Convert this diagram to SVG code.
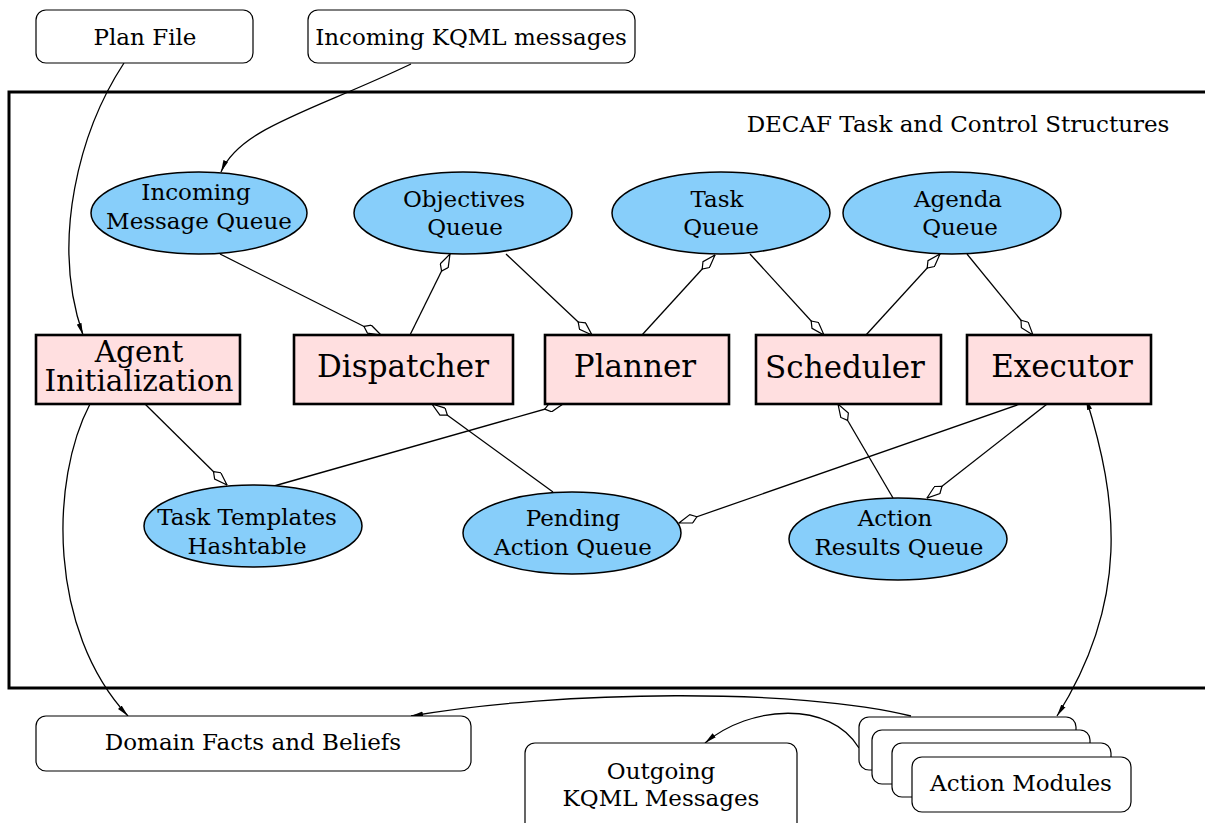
<svg xmlns="http://www.w3.org/2000/svg" width="1205" height="823" viewBox="0 0 1205 823">
<style>
text{font-family:"DejaVu Serif","Liberation Serif",serif;fill:#000;text-anchor:middle}
.s{font-size:23px}
.b{font-size:31px}
.b2{font-size:29.5px}
.q{fill:#87cefa;stroke:#000;stroke-width:1.5}
.p{fill:#ffdfe0;stroke:#000;stroke-width:2.6}
.r{fill:#fff;stroke:#000;stroke-width:1.2}
.e{fill:none;stroke:#000;stroke-width:1.3}
.dm{marker-end:url(#dia)}
.ar{marker-end:url(#arr)}
</style>
<defs>
<marker id="dia" viewBox="0 0 20 10" refX="19.5" refY="5" markerWidth="20" markerHeight="10" orient="auto" markerUnits="userSpaceOnUse">
<path d="M0.5,5 L6.5,0.6 L19.5,5 L6.5,9.4 Z" fill="#fff" stroke="#000" stroke-width="1.2"/>
</marker>
<marker id="arr" viewBox="0 0 12 6" refX="12" refY="3" markerWidth="12" markerHeight="6" orient="auto-start-reverse" markerUnits="userSpaceOnUse">
<path d="M0,0.5 L12,3 L0,5.5 Z" fill="#000"/>
</marker>
</defs>
<rect x="9" y="92" width="1205" height="596" fill="none" stroke="#000" stroke-width="3"/>
<text class="s" x="958" y="132">DECAF Task and Control Structures</text>

<g id="connectors">
<path class="e ar" d="M124,63 C80,130 50,240 83,335"/>
<path class="e ar" d="M411,64 C310,112 240,128 221,172"/>
<line class="e dm" x1="220" y1="254" x2="381" y2="335"/>
<line class="e dm" x1="410" y1="335" x2="450" y2="254"/>
<line class="e dm" x1="506" y1="254" x2="592" y2="335"/>
<line class="e dm" x1="642" y1="335" x2="715" y2="255"/>
<line class="e dm" x1="750" y1="254" x2="824" y2="335"/>
<line class="e dm" x1="866" y1="335" x2="940" y2="254"/>
<line class="e dm" x1="967" y1="254" x2="1033" y2="335"/>
<line class="e dm" x1="145" y1="404" x2="227" y2="485"/>
<line class="e dm" x1="274" y1="486" x2="563" y2="404"/>
<line class="e dm" x1="553" y1="492" x2="432" y2="404"/>
<line class="e dm" x1="1020" y1="404" x2="679" y2="523"/>
<line class="e dm" x1="893" y1="498" x2="838" y2="404"/>
<line class="e dm" x1="1056" y1="397" x2="927" y2="498"/>
<path class="e ar" d="M90,404 C50,480 48,630 128,716"/>
<path class="e ar" style="marker-start:url(#arr)" d="M1086,398 C1118,500 1130,600 1057,716"/>
<path class="e ar" d="M911,716 C800,688 560,690 411,716"/>
<path class="e ar" d="M859,748 C830,700 750,705 705,743"/>
</g>

<g id="plan-file"><rect class="r" x="36" y="10" width="217" height="53" rx="10"/><text class="s" x="145" y="45">Plan File</text></g>
<g id="incoming-kqml"><rect class="r" x="308" y="10" width="327" height="53" rx="10"/><text class="s" x="471" y="45">Incoming KQML messages</text></g>

<g id="incoming-queue"><ellipse class="q" cx="199" cy="213" rx="108" ry="41"/><text class="s" x="196" y="200">Incoming</text><text class="s" x="199" y="229">Message Queue</text></g>
<g id="objectives-queue"><ellipse class="q" cx="463" cy="213" rx="109" ry="41"/><text class="s" x="464" y="207">Objectives</text><text class="s" x="465" y="235">Queue</text></g>
<g id="task-queue"><ellipse class="q" cx="721" cy="213" rx="109" ry="41"/><text class="s" x="717" y="207">Task</text><text class="s" x="721" y="235">Queue</text></g>
<g id="agenda-queue"><ellipse class="q" cx="952" cy="213" rx="109" ry="41"/><text class="s" x="958" y="207">Agenda</text><text class="s" x="960" y="235">Queue</text></g>

<g id="agent-init"><rect class="p" x="36" y="335" width="204" height="69"/><text class="b2" x="139" y="362">Agent</text><text class="b2" x="139" y="391">Initialization</text></g>
<g id="dispatcher"><rect class="p" x="294" y="335" width="219" height="69"/><text class="b" x="403" y="377">Dispatcher</text></g>
<g id="planner"><rect class="p" x="545" y="335" width="184" height="69"/><text class="b" x="635" y="377">Planner</text></g>
<g id="scheduler"><rect class="p" x="756" y="335" width="185" height="69"/><text class="b" x="845" y="378">Scheduler</text></g>
<g id="executor"><rect class="p" x="967" y="335" width="184" height="69"/><text class="b" x="1062" y="377">Executor</text></g>

<g id="task-templates"><ellipse class="q" cx="253" cy="526" rx="109" ry="41"/><text class="s" x="247" y="525">Task Templates</text><text class="s" x="247" y="554">Hashtable</text></g>
<g id="pending-queue"><ellipse class="q" cx="572" cy="533" rx="109" ry="41"/><text class="s" x="573" y="526">Pending</text><text class="s" x="573" y="555">Action Queue</text></g>
<g id="results-queue"><ellipse class="q" cx="898" cy="539" rx="109" ry="41"/><text class="s" x="895" y="526">Action</text><text class="s" x="899" y="555">Results Queue</text></g>

<g id="domain-facts"><rect class="r" x="36" y="716" width="435" height="55" rx="10"/><text class="s" x="253" y="750">Domain Facts and Beliefs</text></g>
<g id="outgoing-kqml"><rect class="r" x="525" y="743" width="272" height="95" rx="10"/><text class="s" x="661" y="779">Outgoing</text><text class="s" x="661" y="806">KQML Messages</text></g>
<g id="action-modules">
<rect class="r" x="859" y="717" width="217" height="53" rx="10"/>
<rect class="r" x="872" y="730" width="218" height="54" rx="10"/>
<rect class="r" x="892" y="743" width="219" height="54" rx="10"/>
<rect class="r" x="912" y="757" width="219" height="55" rx="10"/>
<text class="s" x="1021" y="791">Action Modules</text>
</g>
</svg>
